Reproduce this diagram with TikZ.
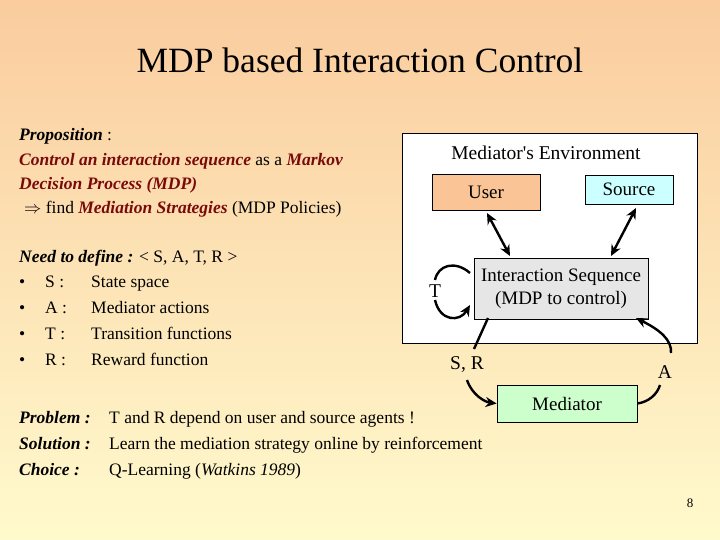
\documentclass[tikz,border=0pt]{standalone}
\usepackage{fontspec}
\setmainfont{Liberation Serif}
\usetikzlibrary{arrows.meta}
\definecolor{dred}{HTML}{7A0A0A}
\begin{document}
\begin{tikzpicture}[x=1pt,y=-1pt,
  txt/.style={anchor=base west,inner sep=0pt,font=\fontsize{17.5}{20}\selectfont},
  lab/.style={inner sep=0pt,font=\fontsize{19.5}{22}\selectfont},
  box/.style={draw,line width=0.8pt,inner sep=0pt,font=\fontsize{19}{23}\selectfont,align=center},
  conn/.style={line width=2.4pt,-{Stealth[length=11pt,width=10pt]}},
  dconn/.style={line width=2.4pt,{Stealth[length=11pt,width=10pt]}-{Stealth[length=11pt,width=10pt]}}]
\shade[top color={rgb,255:red,250;green,204;blue,158},bottom color={rgb,255:red,255;green,250;blue,205}] (0,0) rectangle (720,540);
\useasboundingbox (0,0) rectangle (720,540);
\node[inner sep=0pt,font=\fontsize{35.5}{40}\selectfont] (title) at (360,60) {MDP based Interaction Control};
% left text
\node[txt] (p1) at (19,141) {\textbf{\textit{Proposition}} :};
\node[txt] (p2) at (19,166) {\textcolor{dred}{\textbf{\textit{Control an interaction sequence}}} as a \textcolor{dred}{\textbf{\textit{Markov}}}};
\node[txt] (p3) at (19,190) {\textcolor{dred}{\textbf{\textit{Decision Process (MDP)}}}};
\node[txt] (p4) at (24,214) {$\Rightarrow$ find \textcolor{dred}{\textbf{\textit{Mediation Strategies}}} (MDP Policies)};
\node[txt] (n0) at (19,262) {\textbf{\textit{Need to define :}} < S, A, T, R >};
\foreach \y/\a/\b [count=\i] in {287/S :/State space,313/A :/Mediator actions,339/T :/Transition functions,365/R :/Reward function}{
  \node[txt] (bl\i) at (19,\y) {•};
  \node[txt] (bk\i) at (45,\y) {\a};
  \node[txt] (bd\i) at (91,\y) {\b};
}
\node[txt] (q1) at (19,423) {\textbf{\textit{Problem :}}};
\node[txt] (q1b) at (109,423) {T and R depend on user and source agents !};
\node[txt] (q2) at (19,449) {\textbf{\textit{Solution :}}};
\node[txt] (q2b) at (109,449) {Learn the mediation strategy online by reinforcement};
\node[txt] (q3) at (19,475) {\textbf{\textit{Choice :}}};
\node[txt] (q3b) at (109,475) {Q-Learning (\textit{Watkins 1989})};
\node[inner sep=0pt,font=\fontsize{13}{15}\selectfont] (pg) at (690,503) {8};
% diagram
\draw[fill=white,line width=0.8pt] (402,133) rectangle (697,343);
\node[lab] (env) at (546,153) {Mediator\textquotesingle s Environment};
\node[box,fill={rgb,255:red,250;green,196;blue,150},minimum width=108pt,minimum height=36pt] (user) at (486,192) {User};
\node[box,fill={rgb,255:red,204;green,255;blue,255},minimum width=88pt,minimum height=29pt] (src) at (629,189.5) {Source};
\node[box,fill={rgb,255:red,230;green,230;blue,230},minimum width=174pt,minimum height=61pt] (seq) at (561,288.5) {Interaction Sequence\\(MDP to control)};
\node[box,fill={rgb,255:red,204;green,255;blue,204},minimum width=140pt,minimum height=37pt] (med) at (567,403.5) {Mediator};
\draw[dconn] (487,213) -- (510,256);
\draw[dconn] (636,208) -- (611,256);
\node[lab] (T) at (435,291) {T};
\coordinate (t1) at (470,273);
\coordinate (t2) at (470,305);
\draw[line width=2.4pt] (t1) .. controls (455,260) and (438,265) .. (435,280);
\draw[conn] (435,300) .. controls (440,322) and (460,322) .. (t2);
\node[lab] (SR) at (467,365) {S, R};
\node[lab] (A) at (665,372) {A};
\draw[line width=2.4pt] (488,318) -- (474,349);
\draw[conn] (467,380) .. controls (472,395) and (485,402) .. (med.west);
\draw[line width=2.4pt] (med.east) .. controls (648,402) and (657,395) .. (660,385);
\draw[conn] (671,353) .. controls (672,340) and (660,330) .. (636,318);
\end{tikzpicture}
\end{document}
